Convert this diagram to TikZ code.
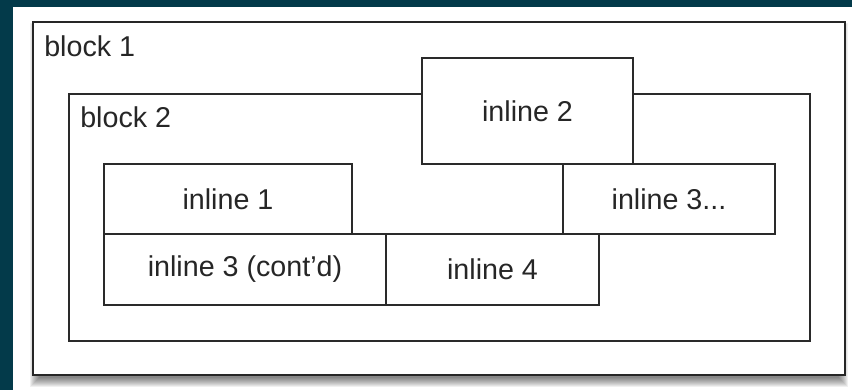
\documentclass[tikz,border=0pt]{standalone}
\usepackage{fontspec}
\setmainfont{Liberation Sans}
\definecolor{bgteal}{HTML}{033A4A}
\definecolor{edge}{HTML}{2A2A2A}
\tikzset{
  box/.style={draw=edge, line width=1.1pt, fill=white},
  lbl/.style={font=\fontsize{21.5}{24}\selectfont, text=black!85, inner sep=0pt},
}
\begin{document}
\begin{tikzpicture}[x=0.75pt,y=-0.75pt]
\useasboundingbox (0,0) rectangle (852,390);
\fill[white] (0,0) rectangle (852,390);
\fill[bgteal] (0,0) rectangle (852,7);
\fill[bgteal] (0,0) rectangle (13,390);
% shadow of block 1
\foreach \s in {0,...,9}
  \fill[black, opacity=0.06] ({33+6-\s},{22+10-\s}) rectangle ({845-6+\s},{375+3+\s});
% block 1
\draw[box, line width=1.5pt, draw=black!85] (33,22) rectangle (845,375);
\node[lbl, anchor=north west] (b1t) at (44,35) {block 1};
% block 2
\draw[box] (69,94) rectangle (810,341);
\node[lbl, anchor=north west] (b2t) at (80,106) {block 2};
% inline boxes
\draw[box] (422,58) rectangle (633,164);
\node[lbl] (i2) at (527.5,111) {inline 2};
\draw[box] (104,164) rectangle (352,234);
\node[lbl] (i1) at (228,199) {inline 1};
\draw[box] (563,164) rectangle (775,234);
\node[lbl] (i3) at (669,199) {inline 3...};
\draw[box] (104,234) rectangle (386,305);
\node[lbl] (i3c) at (245,269.5) {inline 3 (cont'd)};
\draw[box] (386,234) rectangle (599,305);
\node[lbl] (i4) at (492.5,269.5) {inline 4};
\end{tikzpicture}
\end{document}
